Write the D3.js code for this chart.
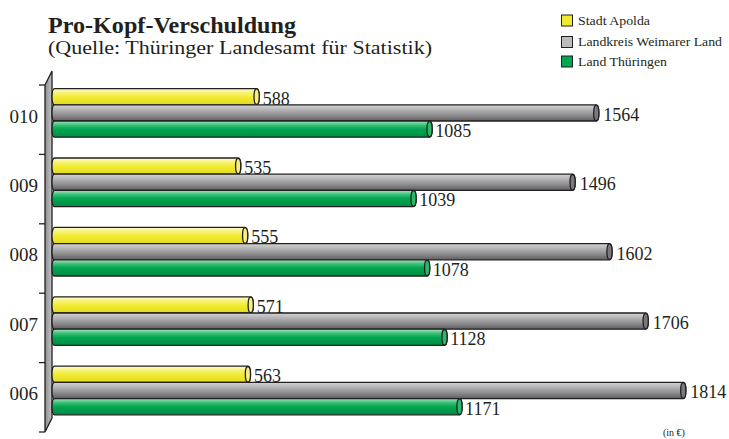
<!DOCTYPE html>
<html><head><meta charset="utf-8">
<script src="https://cdn.jsdelivr.net/npm/d3@7/dist/d3.min.js"></script>
<style>body{margin:0;background:#fff}svg{display:block}text{font-family:"Liberation Serif","Times New Roman",serif;fill:#231f20}</style>
</head><body>
<svg id="c" width="729" height="439"></svg>
<script>
const years = ["010","009","008","007","006"];
const seriesNames = ["Stadt Apolda","Landkreis Weimarer Land","Land Thüringen"];
const apolda   = [588, 535, 555, 571, 563];
const weimarer = [1564, 1496, 1602, 1706, 1814];
const thueringen = [1085, 1039, 1078, 1128, 1171];
const series = [apolda, weimarer, thueringen];

const svg = d3.select("#c");
const defs = svg.append("defs");
const grads = [
  [["0%","#fdfbc8"],["25%","#f7f27a"],["55%","#f1ea2e"],["100%","#e2da22"]],
  [["0%","#d6d6d8"],["30%","#b4b4b6"],["65%","#8c8c8e"],["100%","#5e5e60"]],
  [["0%","#a8e6bd"],["25%","#3cc07a"],["50%","#00a651"],["100%","#008c44"]]
];
const capFill = ["#f6f080","#7a7a7c","#2cb86a"];
grads.forEach((g,i)=>{
  const lg = defs.append("linearGradient").attr("id","g"+i).attr("x1",0).attr("y1",0).attr("x2",0).attr("y2",1);
  g.forEach(s=>lg.append("stop").attr("offset",s[0]).attr("stop-color",s[1]));
});
const wg = defs.append("linearGradient").attr("id","wall").attr("x1",0).attr("y1",0).attr("x2",1).attr("y2",0);
wg.append("stop").attr("offset","0%").attr("stop-color","#8e8e90");
wg.append("stop").attr("offset","100%").attr("stop-color","#c4c4c6");

const x = d3.scaleLinear().domain([0,2000]).range([52,748]);
const y = d3.scaleBand().domain(years).range([85,432]);
const barH = 16.2;
const groupOff = 3.6;

// wall
svg.append("path").attr("d","M45,85 L52,71 L52,418 L45,432 Z")
  .attr("fill","url(#wall)").attr("stroke","#231f20").attr("stroke-width",1.3);
// ticks
const ticks = years.map(d=>y(d)).concat([y.range()[1]]);
svg.selectAll(".tk").data(ticks).enter().append("line")
  .attr("x1",39).attr("x2",45).attr("y1",d=>d).attr("y2",d=>d)
  .attr("stroke","#231f20").attr("stroke-width",1.3);

// y labels
svg.selectAll(".yl").data(years).enter().append("text")
  .attr("x",38).attr("y",d=>y(d)+groupOff+barH*1.5+3).attr("dy","0.35em")
  .attr("text-anchor","end").attr("font-size",19).text(d=>d);

const labelGap = [3.5,4.5,3];
years.forEach((yr,j)=>{
  series.forEach((s,i)=>{
    const v = s[j];
    const y0 = y(yr)+groupOff+i*barH;
    const x0 = x(0), x1 = x(v);
    const ry = barH/2, rx = 2.6;
    svg.append("path")
      .attr("d",`M${x0+rx},${y0} L${x1},${y0} A${rx},${ry} 0 0 1 ${x1},${y0+barH} L${x0+rx},${y0+barH} A${rx},${ry} 0 0 1 ${x0+rx},${y0} Z`)
      .attr("fill",`url(#g${i})`).attr("stroke","#231f20").attr("stroke-width",1.3);
    svg.append("ellipse").attr("cx",x1).attr("cy",y0+ry).attr("rx",rx).attr("ry",ry-0.3)
      .attr("fill",capFill[i]).attr("stroke","#231f20").attr("stroke-width",1.3);
    svg.append("text").attr("x",x1+rx+labelGap[i]).attr("y",y0+ry+1.5).attr("dy","0.35em")
      .attr("font-size",18).text(v);
  });
});

// title
svg.append("text").attr("x",48).attr("y",33).attr("font-size",23).attr("font-weight","bold")
  .attr("textLength",248).attr("lengthAdjust","spacingAndGlyphs").text("Pro-Kopf-Verschuldung");
svg.append("text").attr("x",48).attr("y",54).attr("font-size",19)
  .attr("textLength",384).attr("lengthAdjust","spacingAndGlyphs").text("(Quelle: Thüringer Landesamt für Statistik)");

// legend
const legY = [15,36.5,56];
const legW = [72,144,89];
seriesNames.forEach((n,i)=>{
  svg.append("rect").attr("x",561.5).attr("y",legY[i]).attr("width",11).attr("height",11)
    .attr("fill",[ "#f1ea2e","#bcbcbe","#00a651"][i]).attr("stroke","#231f20").attr("stroke-width",1);
  svg.append("text").attr("x",578).attr("y",legY[i]+5.5).attr("dy","0.35em").attr("font-size",12.5)
    .attr("textLength",legW[i]).attr("lengthAdjust","spacingAndGlyphs").text(n);
});
svg.append("text").attr("x",663).attr("y",436).attr("font-size",10).text("(in €)");
</script>
</body></html>
